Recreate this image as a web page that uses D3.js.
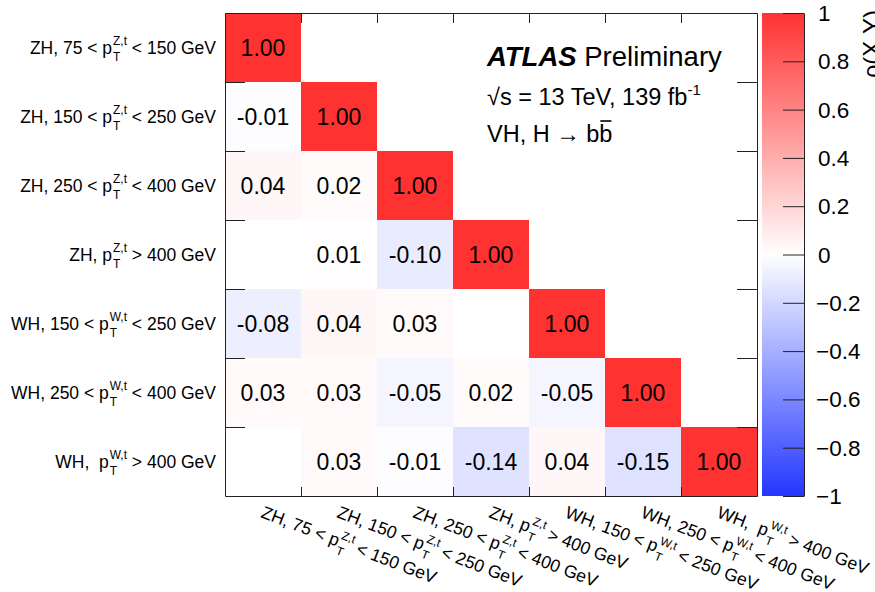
<!DOCTYPE html>
<html lang="en">
<head>
  <meta charset="utf-8">
  <title>Correlation matrix</title>
  <script src="https://d3js.org/d3.v7.min.js" charset="utf-8"></script>
  <style>
    body { margin: 0; background: #fff; }
    text { font-family: "Liberation Sans", Arial, Helvetica, sans-serif; }
  </style>
</head>
<body>
<script type="text/javascript">

  // bin labels: prefix, superscript, subscript, suffix
  const binPrefix = ["ZH, 75 < p", "ZH, 150 < p", "ZH, 250 < p", "ZH, p", "WH, 150 < p", "WH, 250 < p", "WH,  p"]
  const binSup = ["Z,t", "Z,t", "Z,t", "Z,t", "W,t", "W,t", "W,t"]
  const binSub = ["T", "T", "T", "T", "T", "T", "T"]
  const binSuffix = [" < 150 GeV", " < 250 GeV", " < 400 GeV", " > 400 GeV", " < 250 GeV", " < 400 GeV", " > 400 GeV"]

  // lower triangle of the correlation matrix (row = y bin, col = x bin)
  const corr = [
    [1.00],
    [-0.01, 1.00],
    [0.04, 0.02, 1.00],
    [0.00, 0.01, -0.10, 1.00],
    [-0.08, 0.04, 0.03, 0.00, 1.00],
    [0.03, 0.03, -0.05, 0.02, -0.05, 1.00],
    [0.00, 0.03, -0.01, -0.14, 0.04, -0.15, 1.00]
  ]

  const zTicks = [-1, -0.8, -0.6, -0.4, -0.2, 0, 0.2, 0.4, 0.6, 0.8, 1]

  const W = 875, H = 592
  const pL = 225, pR = 757, pT = 13, pB = 496
  const n = binPrefix.length

  const svg = d3.select("body").append("svg")
    .attr("width", W).attr("height", H)

  const x = d3.scaleBand().domain(d3.range(n)).range([pL, pR])
  const y = d3.scaleBand().domain(d3.range(n)).range([pT, pB])
  const xLin = d3.scaleLinear().domain([0, n]).range([pL, pR])
  const yLin = d3.scaleLinear().domain([0, n]).range([pT, pB])

  const color = d3.scaleLinear()
    .domain([-1, 0, 1])
    .range(["rgb(35,55,255)", "#ffffff", "rgb(255,50,50)"])
    .interpolate(d3.interpolateRgb)

  const cells = []
  corr.forEach((row, i) => row.forEach((v, j) => cells.push({ i, j, v })))

  // cells (zero entries are not drawn)
  svg.append("g")
    .selectAll("rect")
    .data(cells.filter(d => d.v !== 0))
    .join("rect")
    .attr("x", d => x(d.j))
    .attr("y", d => y(d.i))
    .attr("width", x.bandwidth())
    .attr("height", y.bandwidth())
    .attr("fill", d => color(d.v))

  svg.append("g")
    .attr("text-anchor", "middle")
    .attr("font-size", 23)
    .selectAll("text")
    .data(cells.filter(d => d.v !== 0))
    .join("text")
    .attr("x", d => x(d.j) + x.bandwidth() / 2)
    .attr("y", d => y(d.i) + y.bandwidth() / 2 + 8)
    .text(d => d.v.toFixed(2))

  // frame with ticks on all sides
  const inner = d3.range(1, n)
  svg.append("g").attr("transform", `translate(0,${pT})`)
    .call(d3.axisBottom(xLin).tickValues(inner).tickSize(10).tickSizeOuter(0).tickFormat(""))
  svg.append("g").attr("transform", `translate(0,${pB})`)
    .call(d3.axisTop(xLin).tickValues(inner).tickSize(9).tickSizeOuter(0).tickFormat(""))
  svg.append("g").attr("transform", `translate(${pL},0)`)
    .call(d3.axisRight(yLin).tickValues(inner).tickSize(20).tickSizeOuter(0).tickFormat(""))
  svg.append("g").attr("transform", `translate(${pR},0)`)
    .call(d3.axisLeft(yLin).tickValues(inner).tickSize(20).tickSizeOuter(0).tickFormat(""))
  svg.selectAll(".domain, .tick line").attr("stroke", "#222")

  // rich label: text + stacked super/subscript + text
  function richLabel(g, pre, sup, sub, post, fs) {
    let cx = 0
    const t1 = g.append("text").attr("x", cx).attr("font-size", fs)
      .attr("xml:space", "preserve").text(pre)
    cx += t1.node().getComputedTextLength() + 1
    const ts = g.append("text").attr("x", cx).attr("y", -0.5 * fs).attr("font-size", fs * 0.68).text(sup)
    const tb = g.append("text").attr("x", cx).attr("y", 0.42 * fs).attr("font-size", fs * 0.68).text(sub)
    cx += Math.max(ts.node().getComputedTextLength(), tb.node().getComputedTextLength())
    const t2 = g.append("text").attr("x", cx).attr("font-size", fs)
      .attr("xml:space", "preserve").text(post)
    cx += t2.node().getComputedTextLength()
    return cx
  }

  // y labels
  d3.range(n).forEach(i => {
    const g = svg.append("g")
    const w = richLabel(g, binPrefix[i], binSup[i], binSub[i], binSuffix[i], 17.5)
    g.attr("transform", `translate(${216 - w},${y(i) + y.bandwidth() / 2 + 6})`)
  })

  // x labels, rotated
  d3.range(n).forEach(j => {
    const g = svg.append("g")
      .attr("transform", `translate(${x(j) + x.bandwidth() / 2 - 3},${517}) rotate(21)`)
    richLabel(g, binPrefix[j], binSup[j], binSub[j], binSuffix[j], 17.5)
  })

  // colour bar
  const zx0 = 762, zx1 = 804
  const z = d3.scaleLinear().domain([-1, 1]).range([pB, pT])
  const grad = svg.append("defs").append("linearGradient")
    .attr("id", "zgrad").attr("x1", 0).attr("y1", 1).attr("x2", 0).attr("y2", 0)
  d3.range(-1, 1.001, 0.1).forEach(v => {
    grad.append("stop").attr("offset", (v + 1) / 2).attr("stop-color", color(v))
  })
  svg.append("rect")
    .attr("x", zx0).attr("y", pT).attr("width", zx1 - zx0).attr("height", pB - pT)
    .attr("fill", "url(#zgrad)")
  const zAxis = svg.append("g").attr("transform", `translate(${zx1},0)`)
    .call(d3.axisLeft(z).tickValues(zTicks).tickSize(21).tickSizeOuter(0).tickFormat(""))
  zAxis.selectAll(".domain, .tick line").attr("stroke", "#222")

  svg.append("g")
    .attr("font-size", 22.5)
    .selectAll("text")
    .data(zTicks)
    .join("text")
    .attr("x", d => d < 0 ? 816 : 818)
    .attr("y", d => z(d) + 8)
    .text(d => d === 0 ? "0" : (d < 0 ? "\u2212" : "") + d3.format("~g")(Math.abs(d)))

  svg.append("text")
    .attr("transform", "translate(880,10) rotate(-90)")
    .attr("text-anchor", "end")
    .attr("font-size", 24)
    .text("\u03c1(X,Y)")

  // ATLAS label
  const tx = 487
  const a = svg.append("text").attr("x", tx).attr("y", 66).attr("font-size", 27.5)
  a.append("tspan").attr("font-weight", "bold").attr("font-style", "italic").text("ATLAS")
  a.append("tspan").text(" Preliminary")

  const l2 = svg.append("text").attr("x", tx).attr("y", 105).attr("font-size", 23.5)
  l2.append("tspan").text("\u221as = 13 TeV, 139 fb")
  l2.append("tspan").attr("font-size", 15).attr("dy", -10).text("-1")

  const l3 = svg.append("text").attr("x", tx).attr("y", 142).attr("font-size", 23.5)
  l3.append("tspan").text("VH, H \u2192 b")
  l3.append("tspan").text("b")
  const wb = l3.node().getSubStringLength(l3.text().length - 1, 1)
  const xb = tx + l3.node().getComputedTextLength() - wb
  svg.append("line")
    .attr("x1", xb + 1).attr("x2", xb + wb - 1)
    .attr("y1", 142 - 21).attr("y2", 142 - 21)
    .attr("stroke", "#000").attr("stroke-width", 1.6)

</script>
</body>
</html>
